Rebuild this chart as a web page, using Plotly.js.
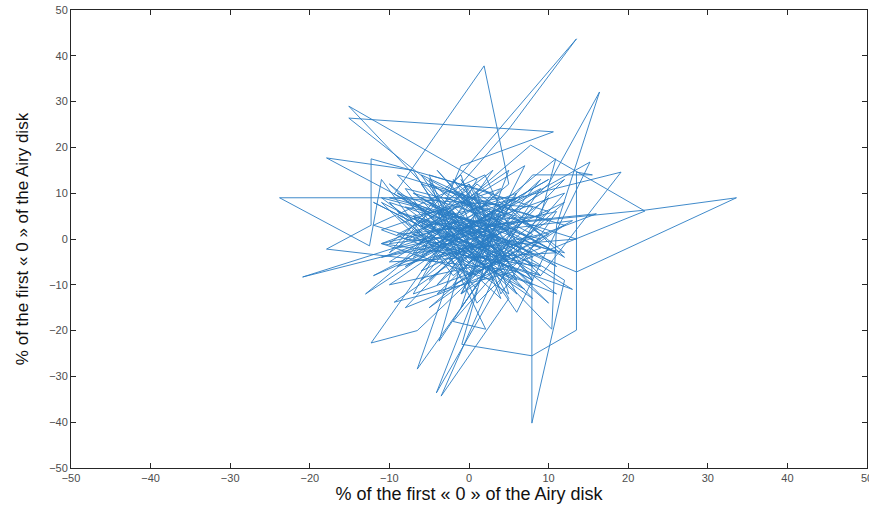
<!DOCTYPE html>
<html>
<head>
<meta charset="utf-8">
<script src="https://cdn.plot.ly/plotly-3.0.1.min.js"></script>
<style>html,body{margin:0;padding:0;background:#fff;}#chart{width:869px;height:509px;}</style>
</head>
<body>
<div id="chart"></div>
<script>
// Trajectory (percent of the first zero of the Airy disk)
const xs = [2,-8,6,-23.8,-12.5,-11,-2,7,-20.9,-4,-12,4,-15.1,1,-7,9,-1,-15.1,10.6,-1,
  -6,5,1.9,-9.4,3,-5,8,-3,-1,4,11,-9,13.5,5,-2,6,-10,0,10.9,9,
  -6,3,-12.3,-6.5,2,-8,6,-6.5,-2,10,-4.1,1,-7,5,-3.5,5,0,12,7.9,7.9,
  -5,10.4,11,16.4,10,-4,8,15.5,13.5,13.5,7.9,-0.9,4,-8,22.1,7.75,0,-9,22.1,33.6,
  13.5,-3,19.1,9,-2,-17.9,-7,-1,-6,3,-12.3,-12.3,-17.9,6,-9.4,3,-11,12,-2,2.1,
  -4,16,0,-10,7,-3,13,-7,4,-12,9,-3.75,1,-10,11,-5,2,-8,7,-1,
  12,-6,4,-11,6,0,-7,13.5,-3,5,-9,2,10,-2,-13,3,-1,8,-10,5,
  -5,12,0,-8,6,-4,10,-6,3,-11,9,-1,15.2,6,-3,11,-7,4,-2,8,
  -7,1,9,-5,4,-11,6,-1,12,-9,2,8,-4,-10,5,0,10,-6,1,-2,
  8,-7,4,12,-5,0,-10,6,2,-12,9,-1,5,-6,12,1,-9,4,-4,8,
  -2,10,-7,0,6,-5,2,-11,9,1,-4,5,-9,11,-1,4,-6,8,0,-10,
  13,-2,6,-7,2,10,-5,0,-9,5,1,9,-4,-11,8,-1,4,-6,11,2];
const ys = [3,-6,9,9.0,-1.5,13,-8,4,-8.3,1,8,-6,29.0,13,-12,-2,7,26.4,23.4,16,
  -4,12,37.8,9.8,-3,-15,1,11,14,-12,6,-2,43.7,24,10,-4,-10,2,17.5,5,
  3,15,-22.7,-20,-6,7,2,-28.4,-6,9,-33.6,-11,5,-1,-34.3,-13,4,-9,-40.2,-3,
  8,-19.7,3,32.1,12,-10,14,14,14.6,-19.9,-25.5,-23,7,-15,6.1,20.5,9,1,6.3,9.0,
  -7.2,5,14.6,-8,3,17.7,15,-2,-9,10,17.5,3,-2.2,-7,-13.8,1,-4,10,-18,-19.7,
  2,5.5,-5,12,-11,-1,-11,10,4,-8,11,-22.3,7,-5,-3,12,-2,0,16,-12,
  8,-7,11,2,-9,12,-3,0,9,-5,6,0,-14,4,-12,6,-15,7,9,2,
  -5,13,-8,11,5,-12,1,14,-9,-1,-6,1,16.8,-16,7,-12,1,-2,13,-4,
  8,-4,13,-9,5,-1,10,-12,3,14,-6,-10,9,-3,15,-8,4,12,-5,6,
  -13,5,9,-4,13,-10,8,-1,14,3,-8,10,-5,4,-3,12,-6,0,15,-9,
  1,13,-4,8,-12,5,-8,9,0,-14,6,-5,10,-3,8,-13,3,-6,12,-1,
  4,-10,9,0,-5,6,14,-8,5,-12,10,1,-4,8,-9,13,-3,9,-6,5];

const tickVals = [-50,-40,-30,-20,-10,0,10,20,30,40,50];
const axisTitle = '% of the first \u00ab 0 \u00bb of the Airy disk';

const fam = 'Liberation Sans, Arial, sans-serif';
const trace = {
  x: xs, y: ys, type: 'scatter', mode: 'lines',
  line: {color: '#2a7dc4', width: 0.9},
  hoverinfo: 'skip'
};
const axisCommon = {
  range: [-50, 50], tickvals: tickVals, ticks: 'inside', ticklen: 5, tickwidth: 1,
  tickcolor: '#262626', showline: true, linecolor: '#262626', linewidth: 1,
  mirror: 'ticks', showgrid: false, zeroline: false,
  ticklabeloverflow: 'allow',
  tickfont: {family: fam, size: 11, color: '#4d4d4d'}
};
const layout = {
  width: 869, height: 509,
  margin: {l: 71, r: 2, t: 10, b: 41},
  paper_bgcolor: '#fff', plot_bgcolor: '#fff',
  showlegend: false,
  xaxis: Object.assign({}, axisCommon, {
    title: {text: axisTitle, font: {family: fam, size: 18, color: '#111'}, standoff: 1}
  }),
  yaxis: Object.assign({}, axisCommon, {
    title: {text: axisTitle, font: {family: fam, size: 17, color: '#111'}, standoff: 16}
  })
};
Plotly.newPlot('chart', [trace], layout, {displayModeBar: false, staticPlot: true});
</script>
</body>
</html>
